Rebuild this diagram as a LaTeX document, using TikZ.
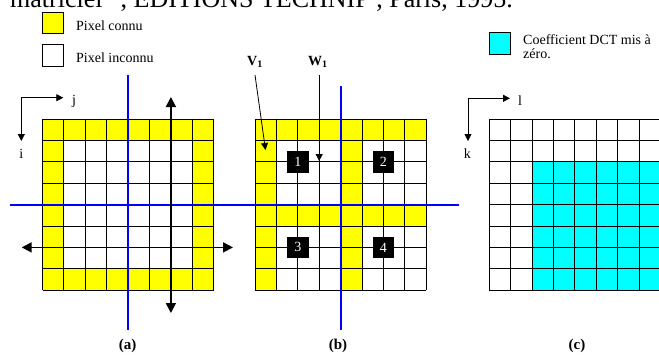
\documentclass[tikz,border=0pt]{standalone}
\usepackage{fontspec}
\setmainfont{Liberation Serif}
\usetikzlibrary{arrows.meta}

\definecolor{knownyellow}{RGB}{255,255,0}
\definecolor{dctcyan}{RGB}{0,255,255}
\definecolor{cutblue}{RGB}{0,0,255}

% 8x8 block lines, cell size 21.4, top edge at y=119
\newcommand\blocklines[1]{%
  \foreach \i in {0,...,8}{%
    \draw[gridline] ({#1+\i*21.4},119) -- ({#1+\i*21.4},290.2);
    \draw[gridline] (#1,{119+\i*21.4}) -- ({#1+171.2},{119+\i*21.4});
  }}

\begin{document}
\begin{tikzpicture}[x=1pt,y=-1pt,
  gridline/.style={line width=0.9pt, black},
  cutline/.style={line width=2.2pt, cutblue},
  bigarrow/.style={{Triangle[length=10pt,width=10pt]}-{Triangle[length=10pt,width=10pt]}, line width=1.8pt},
  thinarrow/.style={-{Triangle[length=7pt,width=7pt]}, line width=0.8pt},
  txt/.style={inner sep=0pt, font=\fontsize{14}{16}\selectfont},
  legendbox/.style={draw=black, line width=0.9pt, minimum size=21.4pt, inner sep=0pt},
  numbox/.style={fill=black, text=white, minimum size=21.7pt, inner sep=0pt, font=\fontsize{14}{14}\selectfont},
  caption/.style={inner sep=0pt, font=\fontsize{15}{17}\selectfont\bfseries}]
\useasboundingbox (0,0) rectangle (659,357);
\clip (0,0) rectangle (659,357);

% running text of the page above the figure
\node[inner sep=0pt, anchor=base west, font=\fontsize{26}{30}\selectfont] (title) at (10,7)
  {matriciel” , EDITIONS TECHNIP , Paris, 1995.};

% legend
\node[legendbox, fill=knownyellow] (lk) at (53,23) {};
\node[txt, anchor=base west] (lkt) at (76,30.5) {Pixel connu};
\node[legendbox, fill=white] (lu) at (53,55.3) {};
\node[txt, anchor=base west] (lut) at (76,62) {Pixel inconnu};
\node[legendbox, fill=dctcyan] (lc) at (499.7,43.3) {};
\node[txt, anchor=base west] (lct1) at (523,44.5) {Coefficient DCT mis à};
\node[txt, anchor=base west] (lct2) at (523,58) {zéro.};

% block (a): known border ring
\fill[knownyellow] (42.5,119) rectangle (213.7,290.2);
\fill[white] (63.9,140.4) rectangle (192.3,268.8);
\blocklines{42.5}

% block (b): known rows/columns 0 and 4
\fill[white] (255,119) rectangle (426.2,290.2);
\fill[knownyellow] (255,119) rectangle (276.4,290.2);
\fill[knownyellow] (340.6,119) rectangle (362,290.2);
\fill[knownyellow] (255,119) rectangle (426.2,140.4);
\fill[knownyellow] (255,204.6) rectangle (426.2,226);
\blocklines{255}

% block (c): zeroed DCT coefficients
\fill[white] (489.3,119) rectangle (660.5,290.2);
\fill[dctcyan] (532.1,161.8) rectangle (660.5,290.2);
\blocklines{489.3}

% cutting lines
\coordinate (ha) at (10,204.6);
\coordinate (hb) at (459,204.6);
\coordinate (vat) at (128.1,75);
\coordinate (vab) at (128.1,330);
\coordinate (vbt) at (340.6,86);
\coordinate (vbb) at (340.6,330);
\draw[cutline] (ha) -- (hb);
\draw[cutline] (vat) -- (vab);
\draw[cutline] (vbt) -- (vbb);

% symmetry axes of block (a)
\coordinate (sat) at (170.9,97);
\coordinate (sab) at (170.9,313);
\coordinate (sal) at (21.7,247.4);
\coordinate (sar) at (233,247.4);
\draw[bigarrow] (sat) -- (sab);
\draw[bigarrow] (sal) -- (sar);

% index directions
\coordinate (oa) at (21.3,97.7);
\coordinate (oaj) at (63.3,97.7);
\coordinate (oai) at (21.3,141);
\draw[thinarrow] (oa) -- (oaj);
\draw[thinarrow] (oa) -- (oai);
\node[txt, anchor=base] (j) at (74,104) {j};
\node[txt, anchor=base] (i) at (21.3,158) {i};

\coordinate (oc) at (468,98.3);
\coordinate (ocl) at (510,98.3);
\coordinate (ock) at (468,141);
\draw[thinarrow] (oc) -- (ocl);
\draw[thinarrow] (oc) -- (ock);
\node[txt, anchor=base] (l) at (520,105) {l};
\node[txt, anchor=base] (k) at (467.3,158) {k};

% sub-blocks 1..4 of block (b)
\node[numbox] (n1) at (297.8,161.8) {1};
\node[numbox] (n2) at (383.4,161.8) {2};
\node[numbox] (n3) at (297.8,247.4) {3};
\node[numbox] (n4) at (383.4,247.4) {4};

% V1 and W1 pointers
\node[txt, anchor=base west, font=\fontsize{14}{16}\selectfont\bfseries] (v1) at (247,65)
  {V\raisebox{-2.5pt}{\fontsize{10}{10}\selectfont 1}};
\node[txt, anchor=base west, font=\fontsize{14}{16}\selectfont\bfseries] (w1) at (308,65)
  {W\raisebox{-2.5pt}{\fontsize{10}{10}\selectfont 1}};
\coordinate (v1s) at (255,75);
\coordinate (v1e) at (265.5,150);
\coordinate (w1s) at (319.2,75);
\coordinate (w1e) at (319.2,161);
\draw[thinarrow] (v1s) -- (v1e);
\draw[thinarrow] (w1s) -- (w1e);

% captions
\node[caption, anchor=base] (ca) at (127.5,349) {(a)};
\node[caption, anchor=base] (cb) at (338,349) {(b)};
\node[caption, anchor=base] (cc) at (577,349) {(c)};
\end{tikzpicture}
\end{document}
